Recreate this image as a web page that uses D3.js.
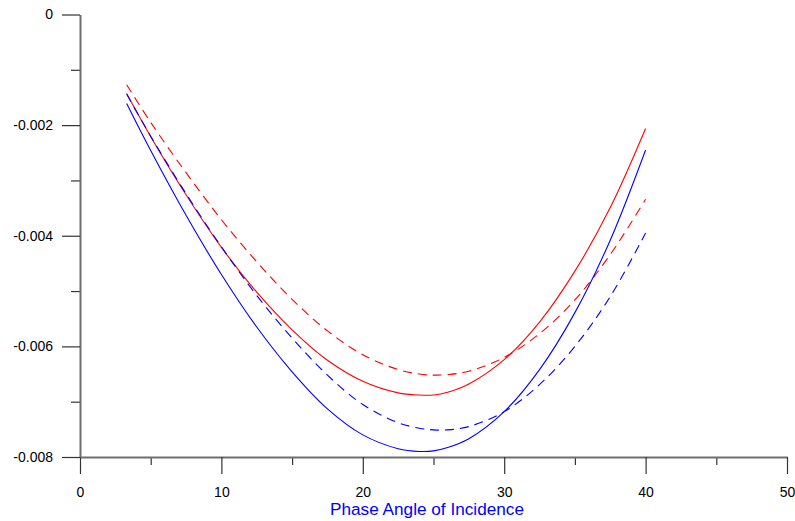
<!DOCTYPE html>
<html>
<head>
<meta charset="utf-8">
<script src="https://cdn.jsdelivr.net/npm/d3@7"></script>
<style>
  body { margin: 0; background: #fff; }
  svg text { font-family: "Liberation Sans", Arial, sans-serif; }
</style>
</head>
<body>
<svg id="chart" width="795" height="521"></svg>
<script>
// phase angle samples (deg) shared by all four curves
const phaseAngles = [3.3, 5, 7.5, 10, 12.5, 15, 17.5, 20, 22.5, 24, 25, 26, 27.5, 30, 32.5, 35, 37.5, 40];

const redSolid   = [-0.00143, -0.00221, -0.00326, -0.00421, -0.00502, -0.00570, -0.00625, -0.00663, -0.00684, -0.00688, -0.00688, -0.00683, -0.00668, -0.00624, -0.00556, -0.00464, -0.00349, -0.00206];
const redDashed  = [-0.00127, -0.00195, -0.00286, -0.00371, -0.00447, -0.00515, -0.00572, -0.00615, -0.00642, -0.00650, -0.00652, -0.00651, -0.00645, -0.00620, -0.00577, -0.00516, -0.00434, -0.00334];
const blueSolid  = [-0.00161, -0.00246, -0.00363, -0.00470, -0.00565, -0.00646, -0.00713, -0.00760, -0.00785, -0.00790, -0.00789, -0.00783, -0.00767, -0.00718, -0.00642, -0.00539, -0.00408, -0.00245];
const blueDashed = [-0.00144, -0.00220, -0.00324, -0.00420, -0.00508, -0.00585, -0.00652, -0.00705, -0.00738, -0.00748, -0.00751, -0.00751, -0.00745, -0.00718, -0.00669, -0.00600, -0.00510, -0.00395];

const xMajor = [0, 10, 20, 30, 40, 50];
const xMinor = [5, 15, 25, 35, 45];
const yMajor = [0, -0.002, -0.004, -0.006, -0.008];
const yMinor = [-0.001, -0.003, -0.005, -0.007];

const series = [
  { values: redSolid,   color: "#ff0000", dash: null },
  { values: redDashed,  color: "#ff0000", dash: "9,6" },
  { values: blueSolid,  color: "#0000ff", dash: null },
  { values: blueDashed, color: "#0000ff", dash: "9,6" }
];

const svg = d3.select("#chart");
const plotLeft = 80, plotRight = 787, plotTop = 14.5, plotBottom = 457;

const x = d3.scaleLinear().domain([0, 50]).range([plotLeft, plotRight]);
const y = d3.scaleLinear().domain([-0.008, 0]).range([plotBottom, plotTop]);

const fmtY = d => d === 0 ? "0" : d.toFixed(3);

// minor ticks first, then majors with labels
svg.append("g")
  .attr("transform", `translate(0,${plotBottom})`)
  .call(d3.axisBottom(x).tickValues(xMinor).tickSize(8).tickSizeOuter(0).tickFormat(""))
  .call(g => g.select(".domain").remove());

svg.append("g")
  .attr("transform", `translate(${plotLeft},0)`)
  .call(d3.axisLeft(y).tickValues(yMinor).tickSize(9).tickSizeOuter(0).tickFormat(""))
  .call(g => g.select(".domain").remove());

const xAxis = svg.append("g")
  .attr("transform", `translate(0,${plotBottom})`)
  .call(d3.axisBottom(x).tickValues(xMajor).tickSize(17).tickSizeOuter(0));

const yAxis = svg.append("g")
  .attr("transform", `translate(${plotLeft},0)`)
  .call(d3.axisLeft(y).tickValues(yMajor).tickSize(18).tickSizeOuter(0).tickPadding(9).tickFormat(fmtY));

svg.selectAll(".tick line").attr("stroke", "#333").attr("stroke-width", 1.2);
svg.selectAll(".domain").attr("stroke", "#6e6e6e").attr("stroke-width", 2);
svg.selectAll(".tick text")
  .attr("fill", "#000")
  .style("font-size", "14px")
  .style("font-family", "'Liberation Sans', Arial, sans-serif");
xAxis.selectAll(".tick text").attr("dy", null).attr("y", 40);

const line = d3.line()
  .x((d, i) => x(phaseAngles[i]))
  .y(d => y(d))
  .curve(d3.curveCatmullRom.alpha(0.5));

svg.append("g")
  .selectAll("path")
  .data(series)
  .join("path")
    .attr("d", d => line(d.values))
    .attr("fill", "none")
    .attr("stroke", d => d.color)
    .attr("stroke-width", 1.1)
    .attr("stroke-dasharray", d => d.dash);

svg.append("text")
  .attr("x", 427)
  .attr("y", 515)
  .attr("text-anchor", "middle")
  .attr("fill", "#0000ff")
  .style("font-size", "17.2px")
  .text("Phase Angle of Incidence");
</script>
</body>
</html>
